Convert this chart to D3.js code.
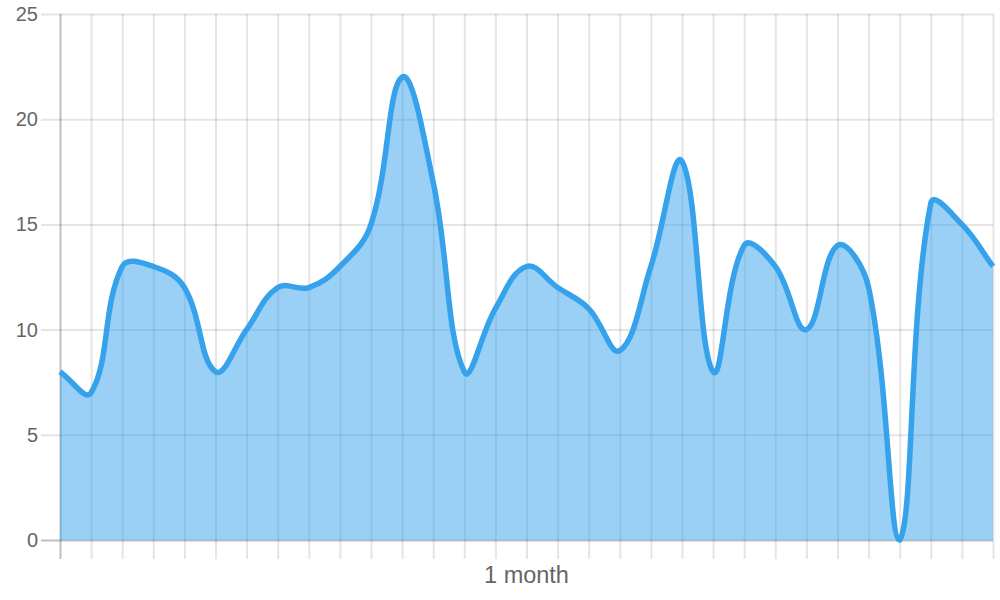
<!DOCTYPE html>
<html>
<head>
<meta charset="utf-8">
<script src="https://cdn.jsdelivr.net/npm/d3@7"></script>
<style>
  html, body { margin: 0; padding: 0; background: #fff; }
  svg { display: block; }
  text { font-family: "Liberation Sans", Arial, Helvetica, sans-serif; fill: #666; }
</style>
</head>
<body>
<svg id="chart" width="1000" height="600"></svg>
<script>
// ---- data ----
const dayIndex = d3.range(31);
const values = [8, 7, 13, 13, 12, 8, 10, 12, 12, 13, 15, 22, 17, 8, 11, 13, 12, 11, 9, 13, 18, 8, 14, 13, 10, 14, 12, 0, 16, 15, 13];
const yTicks = [0, 5, 10, 15, 20, 25];
const xTitle = "1 month";

// ---- layout ----
const W = 1000, H = 600;
const area = { left: 60, right: 993, top: 14, bottom: 540 };
const tickLen = 19;

const svg = d3.select("#chart");
const x = d3.scaleLinear().domain([0, dayIndex.length - 1]).range([area.left, area.right]);
const y = d3.scaleLinear().domain([0, 25]).range([area.bottom, area.top]);

const gridColor = "rgba(0,0,0,0.1)";
const zeroColor = "rgba(0,0,0,0.25)";
const gridWidth = 2;

// y grid + labels
const yAxis = svg.append("g")
  .attr("transform", `translate(${area.left - tickLen},0)`)
  .call(d3.axisLeft(y).tickValues(yTicks).tickSize(-(area.right - area.left + tickLen)).tickPadding(3).tickFormat(d3.format("d")));
yAxis.select(".domain").remove();
yAxis.selectAll(".tick line").attr("stroke", d => d === 0 ? zeroColor : gridColor).attr("stroke-width", gridWidth);
yAxis.selectAll(".tick text").attr("font-size", 20).attr("fill", "#666")
  .attr("font-family", '"Liberation Sans", Arial, sans-serif');

// x grid (no labels)
const xAxis = svg.append("g")
  .attr("transform", `translate(0,${area.bottom + tickLen})`)
  .call(d3.axisBottom(x).tickValues(dayIndex).tickSize(-(area.bottom - area.top + tickLen)).tickFormat(""));
xAxis.select(".domain").remove();
xAxis.selectAll(".tick line").attr("stroke", d => d === 0 ? zeroColor : gridColor).attr("stroke-width", gridWidth);

// x axis title
svg.append("text")
  .attr("x", (area.left + area.right) / 2)
  .attr("y", 583)
  .attr("text-anchor", "middle")
  .attr("font-size", 23.5)
  .text(xTitle);

// ---- Chart.js-style spline (tension 0.4, capped control points) ----
const tension = 0.4;
const pts = values.map((v, i) => ({ x: x(i), y: y(v) }));
function cap(p) {
  return { x: Math.max(area.left, Math.min(area.right, p.x)), y: Math.max(area.top, Math.min(area.bottom, p.y)) };
}
const ctrl = pts.map((cur, i) => {
  const prev = pts[i - 1] || cur;
  const next = pts[i + 1] || cur;
  const d01 = Math.hypot(cur.x - prev.x, cur.y - prev.y);
  const d12 = Math.hypot(next.x - cur.x, next.y - cur.y);
  let s01 = d01 / (d01 + d12), s12 = d12 / (d01 + d12);
  if (isNaN(s01)) s01 = 0;
  if (isNaN(s12)) s12 = 0;
  const fa = tension * s01, fb = tension * s12;
  return {
    prev: cap({ x: cur.x - fa * (next.x - prev.x), y: cur.y - fa * (next.y - prev.y) }),
    next: cap({ x: cur.x + fb * (next.x - prev.x), y: cur.y + fb * (next.y - prev.y) })
  };
});
function linePath(p) {
  p.moveTo(pts[0].x, pts[0].y);
  for (let i = 1; i < pts.length; i++) {
    const a = ctrl[i - 1].next, b = ctrl[i].prev;
    p.bezierCurveTo(a.x, a.y, b.x, b.y, pts[i].x, pts[i].y);
  }
  return p;
}
const fillP = linePath(d3.path());
fillP.lineTo(x(dayIndex.length - 1), y(0));
fillP.lineTo(x(0), y(0));
fillP.closePath();

svg.append("path")
  .attr("d", fillP.toString())
  .attr("fill", "rgba(54,162,235,0.5)")
  .attr("stroke", "none");

svg.append("path")
  .attr("d", linePath(d3.path()).toString())
  .attr("fill", "none")
  .attr("stroke", "rgb(54,162,235)")
  .attr("stroke-width", 5.5)
  .attr("stroke-linejoin", "miter");
</script>
</body>
</html>
